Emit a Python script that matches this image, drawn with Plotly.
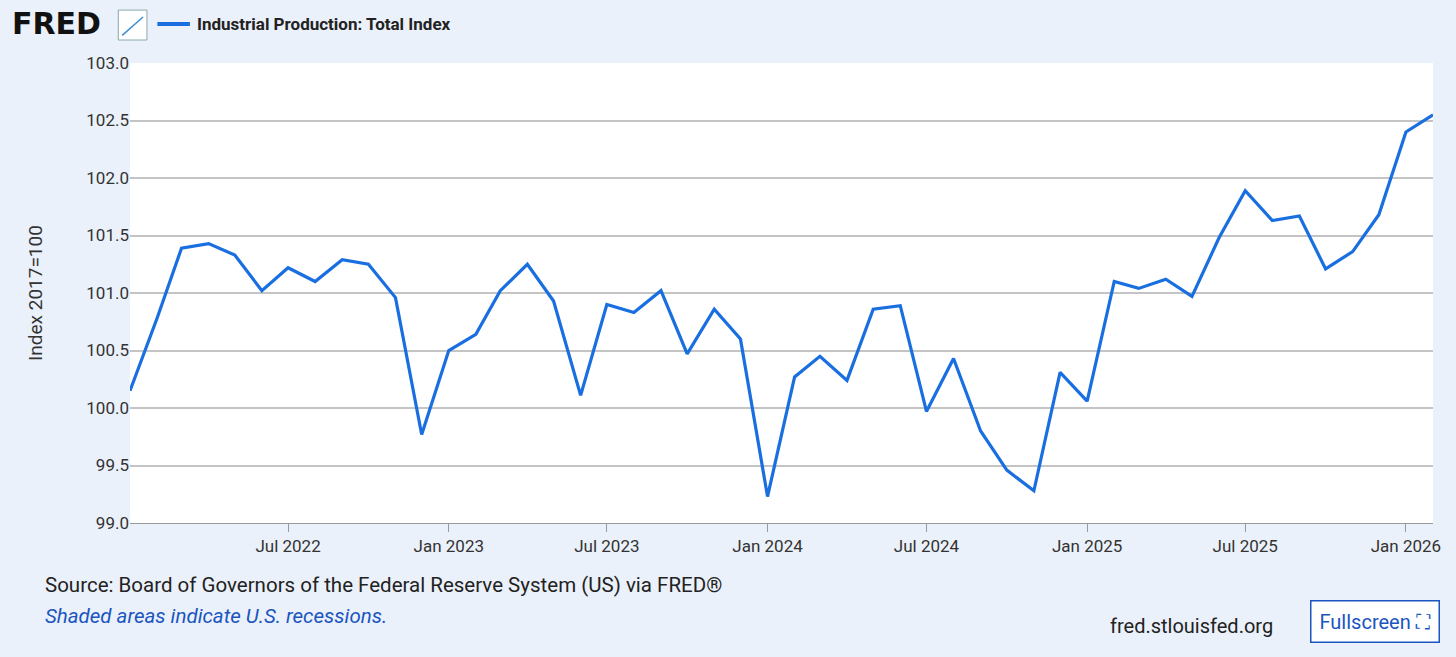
import plotly.graph_objects as go
import pandas as pd

dates = pd.date_range("2022-01-01", "2026-02-01", freq="MS")
values = [100.15, 100.78, 101.39, 101.43, 101.33, 101.02, 101.22, 101.10, 101.29, 101.25,
          100.96, 99.77, 100.50, 100.64, 101.02, 101.25, 100.93, 100.11, 100.90, 100.83,
          101.02, 100.47, 100.86, 100.60, 99.23, 100.27, 100.45, 100.24, 100.86, 100.89,
          99.97, 100.43, 99.80, 99.46, 99.28, 100.31, 100.06, 101.10, 101.04, 101.12,
          100.97, 101.48, 101.89, 101.63, 101.67, 101.21, 101.36, 101.68, 102.40, 102.55]
tick_vals = ["2022-07-01", "2023-01-01", "2023-07-01", "2024-01-01", "2024-07-01",
             "2025-01-01", "2025-07-01", "2026-01-01"]
tick_text = ["Jul 2022", "Jan 2023", "Jul 2023", "Jan 2024", "Jul 2024",
             "Jan 2025", "Jul 2025", "Jan 2026"]
y_ticks = [99.0, 99.5, 100.0, 100.5, 101.0, 101.5, 102.0, 102.5, 103.0]

fig = go.Figure(go.Scatter(x=dates, y=values, mode="lines",
                           line=dict(color="#1a6fe0", width=3.2)))
fig.update_layout(
    width=1456, height=657, paper_bgcolor="#ebf1fa", plot_bgcolor="white",
    margin=dict(l=130, r=23, t=63, b=134), showlegend=False,
    font=dict(family="Roboto", color="#333"),
    xaxis=dict(range=[dates[0], dates[-1]], tickvals=tick_vals, ticktext=tick_text,
               showgrid=False, ticks="outside", ticklen=8, tickcolor="#999",
               tickfont=dict(size=17, color="#333"), showline=True, linecolor="#999"),
    yaxis=dict(range=[99.0, 103.0], tickvals=y_ticks, ticktext=[f"{v:.1f}" for v in y_ticks],
               gridcolor="#c4c4c4", gridwidth=1.5, tickfont=dict(size=17, color="#333"),
               title=dict(text="Index 2017=100", font=dict(size=19, color="#333"), standoff=38),
               zeroline=False),
)
fig.add_annotation(xref="paper", yref="paper", x=-0.092, y=1.085, xanchor="left", yanchor="middle",
                   text="<b>FRED</b>", showarrow=False,
                   font=dict(size=30, color="#111", family="DejaVu Sans"))
fig.add_shape(type="rect", xref="paper", yref="paper", x0=-0.009, x1=0.013, y0=1.05, y1=1.115,
              line=dict(color="#8aa", width=1), fillcolor="white")
fig.add_shape(type="line", xref="paper", yref="paper", x0=-0.006, x1=0.01, y0=1.06, y1=1.1,
              line=dict(color="#3a8fd0", width=1.5))
fig.add_shape(type="line", xref="paper", yref="paper", x0=0.021, x1=0.046, y0=1.085, y1=1.085,
              line=dict(color="#1a6fe0", width=4))
fig.add_annotation(xref="paper", yref="paper", x=0.05, y=1.085, xanchor="left", yanchor="middle",
                   text="<b>Industrial Production: Total Index</b>", showarrow=False,
                   font=dict(size=17, color="#222"))
fig.add_annotation(xref="paper", yref="paper", x=-0.067, y=-0.135, xanchor="left", yanchor="middle",
                   text="Source: Board of Governors of the Federal Reserve System (US) via FRED®",
                   showarrow=False, font=dict(size=20.5, color="#222"))
fig.add_annotation(xref="paper", yref="paper", x=-0.067, y=-0.202, xanchor="left", yanchor="middle",
                   text="<i>Shaded areas indicate U.S. recessions.</i>",
                   showarrow=False, font=dict(size=20.5, color="#1a55c0"))
fig.add_annotation(xref="paper", yref="paper", x=0.879, y=-0.224, xanchor="right", yanchor="middle",
                   text="fred.stlouisfed.org", showarrow=False, font=dict(size=20, color="#222"))
fig.add_annotation(xref="paper", yref="paper", x=1.005, y=-0.215, xanchor="right", yanchor="middle",
                   text="Fullscreen ⛶", showarrow=False, font=dict(size=20, color="#1a55c0"),
                   bordercolor="#1a55c0", borderwidth=1.5, borderpad=8, bgcolor="white")
fig.write_html("out.html", config={"displayModeBar": False},
               post_script="document.body.style.margin='0';")
